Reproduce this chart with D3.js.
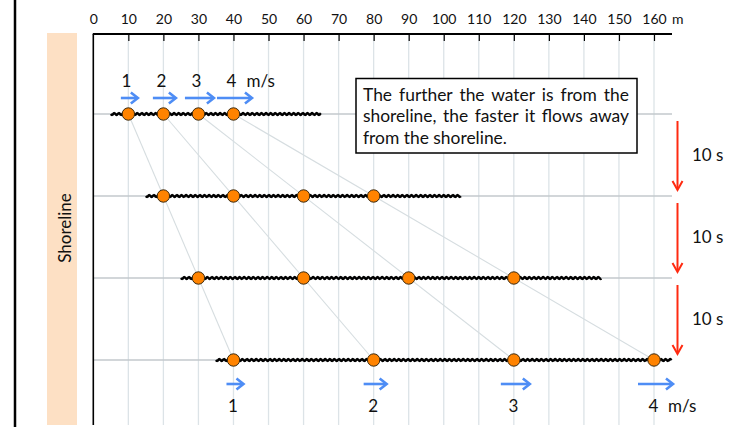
<!DOCTYPE html>
<html><head><meta charset="utf-8">
<script src="https://cdn.jsdelivr.net/npm/d3@7"></script>
<style>
html,body{margin:0;padding:0;background:#fff;}
svg{display:block;font-family:Lato,"Open Sans",sans-serif;}
</style></head>
<body>
<svg id="chart" width="731" height="427"></svg>
<script>
// ---- data ----
const tickValues = [0,10,20,30,40,50,60,70,80,90,100,110,120,130,140,150,160];
const speeds = [1,2,3,4];                 // m/s
const times = [0,10,20,30];               // s
const positions = [                        // m, per time row
  [10,20,30,40],
  [20,40,60,80],
  [30,60,90,120],
  [40,80,120,160]
];
const waveStart = [5,15,25,35];           // m
const waveEnd = [65,105,145,165];         // m
const intervalLabels = ["10 s","10 s","10 s"];
const noteLines = ["The further the water is from the","shoreline, the faster it flows away","from the shoreline."];

// ---- scales ----
const svg = d3.select("#chart");
const x = d3.scaleLinear().domain([0,160]).range([93.3,654]);
const y = d3.scaleLinear().domain([0,30]).range([114,360]);
const arrowLen = d3.scaleLinear().domain([1,4]).range([17,35]);
const axisY = 34, bottomY = 425, rightX = 672;
const FS = 17;

// left border
svg.append("line").attr("x1",15).attr("x2",15).attr("y1",0).attr("y2",427)
  .attr("stroke","#000").attr("stroke-width",2.5);
// shoreline band
svg.append("rect").attr("x",47).attr("y",33).attr("width",30).attr("height",bottomY-33)
  .attr("fill","#fde0c4");
svg.append("text").attr("transform","translate(70.5,228) rotate(-90)")
  .attr("text-anchor","middle").attr("font-size",FS).attr("fill","#111").text("Shoreline");

// gridlines
svg.append("g").selectAll("line").data(tickValues.filter(d=>d>0)).join("line")
  .attr("x1",d=>x(d)).attr("x2",d=>x(d)).attr("y1",axisY).attr("y2",bottomY)
  .attr("stroke","#dce3e7").attr("stroke-width",1.3);

// row baselines
svg.append("g").selectAll("line").data(times).join("line")
  .attr("x1",x(0)).attr("x2",rightX).attr("y1",d=>y(d)).attr("y2",d=>y(d))
  .attr("stroke","#c3c9cc").attr("stroke-width",1.3);

// top axis
const axis = d3.axisTop(x).tickValues(tickValues).tickSize(-7).tickPadding(10)
  .tickFormat(d=>d);
const ga = svg.append("g").attr("transform",`translate(0,${axisY})`).call(axis);
ga.select(".domain").remove();
ga.selectAll(".tick line").attr("stroke","#000").attr("stroke-width",1.2);
ga.selectAll(".tick").filter(d=>d===0).select("line").remove();
ga.selectAll(".tick text").attr("font-size",14).attr("fill","#111").attr("font-family","Lato,sans-serif");
svg.append("line").attr("x1",x(0)-0.5).attr("x2",rightX).attr("y1",axisY).attr("y2",axisY)
  .attr("stroke","#000").attr("stroke-width",2);
svg.append("text").attr("x",x(160)+18).attr("y",axisY-10).attr("font-size",14).attr("fill","#111").text("m");
// left axis
svg.append("line").attr("x1",x(0)).attr("x2",x(0)).attr("y1",axisY).attr("y2",bottomY)
  .attr("stroke","#000").attr("stroke-width",1.6);

// trajectory lines
svg.append("g").selectAll("line").data(speeds.map((s,i)=>i)).join("line")
  .attr("x1",i=>x(positions[0][i])).attr("y1",y(times[0]))
  .attr("x2",i=>x(positions[times.length-1][i])).attr("y2",y(times[times.length-1]))
  .attr("stroke","#d6dde0").attr("stroke-width",1.1);

// wavy water lines
const wave = d3.line().x(d=>d[0]).y(d=>d[1]).curve(d3.curveBasis);
times.forEach((t,r)=>{
  const x0 = x(waveStart[r]), x1 = x(waveEnd[r]), yy = y(t);
  const pts = d3.range(x0, x1, 0.5).map(px=>[px, yy + 1.0*Math.sin((px-x0)/4.6*2*Math.PI)]);
  svg.append("path").attr("d",wave(pts)).attr("fill","none")
    .attr("stroke","#000").attr("stroke-width",2.4);
});

// dots
times.forEach((t,r)=>{
  svg.append("g").selectAll("circle").data(positions[r]).join("circle")
    .attr("cx",d=>x(d)).attr("cy",y(t)).attr("r",6.2)
    .attr("fill","#ff8300").attr("stroke","#3a2a10").attr("stroke-width",1);
});

// speed arrows
function hArrow(g, cx, cy, len, color){
  const x0 = cx - len/2, x1 = cx + len/2;
  g.append("line").attr("x1",x0).attr("x2",x1-1).attr("y1",cy).attr("y2",cy)
    .attr("stroke",color).attr("stroke-width",2.6);
  g.append("path").attr("d",`M${x1-7},${cy-5.5}L${x1},${cy}L${x1-7},${cy+5.5}`)
    .attr("fill","none").attr("stroke",color).attr("stroke-width",2.6);
}
const blue = "#4e8df5";
const topG = svg.append("g");
speeds.forEach((s,i)=>{
  hArrow(topG, x(positions[0][i])+1, 98, arrowLen(s), blue);
  topG.append("text").attr("x",x(positions[0][i])-2).attr("y",86.5)
    .attr("text-anchor","middle").attr("font-size",FS).attr("fill","#111").text(s);
});
topG.append("text").attr("x",x(positions[0][3])+13).attr("y",86.5)
  .attr("font-size",FS).attr("fill","#111").text("m/s");
const botG = svg.append("g");
const lastRow = positions[times.length-1];
speeds.forEach((s,i)=>{
  hArrow(botG, x(lastRow[i])+1.5, 384, arrowLen(s), blue);
  botG.append("text").attr("x",x(lastRow[i])-0.5).attr("y",412)
    .attr("text-anchor","middle").attr("font-size",FS).attr("fill","#111").text(s);
});
botG.append("text").attr("x",x(lastRow[3])+14).attr("y",412)
  .attr("font-size",FS).attr("fill","#111").text("m/s");

// time interval arrows
const red = "#ff2a10";
const ax = 677.5;
intervalLabels.forEach((lab,i)=>{
  const y0 = y(times[i]) + 7, y1 = y(times[i+1]) - 6;
  svg.append("line").attr("x1",ax).attr("x2",ax).attr("y1",y0).attr("y2",y1-1)
    .attr("stroke",red).attr("stroke-width",2);
  svg.append("path").attr("d",`M${ax-5},${y1-9}L${ax},${y1}L${ax+5},${y1-9}`)
    .attr("fill","none").attr("stroke",red).attr("stroke-width",2);
  svg.append("text").attr("x",692).attr("y",(y(times[i])+y(times[i+1]))/2+6)
    .attr("font-size",FS).attr("fill","#111").text(lab);
});

// note box
svg.append("rect").attr("x",356).attr("y",78.5).attr("width",281).attr("height",74.5)
  .attr("fill","#fff").attr("stroke","#000").attr("stroke-width",1.5);
const noteTexts = noteLines.map((ln,i)=>svg.append("text").attr("x",363).attr("y",100.5+i*21.5)
    .attr("font-size",FS).attr("fill","#111").text(ln));
// fit font so the last line matches its width in the picture, then justify lines 1-2 by word spacing
const lastW = noteTexts[2].node().getComputedTextLength();
const noteFS = Math.min(19, FS * 144 / lastW);
noteTexts.forEach((t,i)=>{
  t.attr("font-size",noteFS);
  if(i<2){
    const w = t.node().getComputedTextLength();
    const n = (noteLines[i].match(/ /g)||[]).length;
    t.attr("word-spacing", Math.max(0,(266 - w)/n));
  }
});
</script>
</body></html>
